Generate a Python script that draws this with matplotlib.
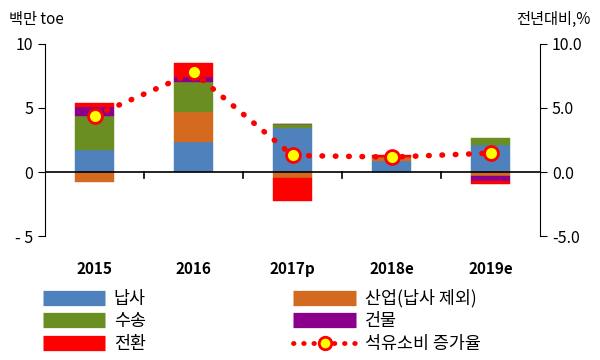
import matplotlib
matplotlib.use("Agg")
import matplotlib.pyplot as plt
from matplotlib.lines import Line2D
import numpy as np

plt.rcParams['font.family'] = ['Noto Sans CJK KR', 'DejaVu Sans']

years = ['2015', '2016', '2017p', '2018e', '2019e']
naphtha = [1.74, 2.36, 3.47, 0.83, 2.15]
industry = [-0.75, 2.30, -0.49, 0.33, -0.31]
transport = [2.64, 2.39, 0.26, 0.05, 0.52]
building = [0.72, 0.33, 0.05, 0.0, -0.41]
conversion = [0.29, 1.12, -1.79, 0.10, -0.21]
growth = [4.4, 7.77, 1.3, 1.17, 1.48]

series = [
    ('납사', naphtha, '#4F81BD'),
    ('산업(납사 제외)', industry, '#D46A1F'),
    ('수송', transport, '#6B8E23'),
    ('건물', building, '#8B008B'),
    ('전환', conversion, '#FF0000'),
]

fig = plt.figure(figsize=(6, 3.6), dpi=100)
ax = fig.add_axes([0.075, 0.344, 0.825, 0.534])
x = np.arange(len(years))
pos_base = np.zeros(len(years))
neg_base = np.zeros(len(years))
for name, vals, col in series:
    v = np.array(vals, dtype=float)
    bottoms = np.where(v >= 0, pos_base, neg_base)
    ax.bar(x, v, width=0.4, bottom=bottoms, color=col, edgecolor=col, linewidth=0.3, zorder=2)
    pos_base += np.where(v >= 0, v, 0)
    neg_base += np.where(v < 0, v, 0)

ax.set_xlim(-0.5, 4.5)
ax.set_ylim(-5, 10)
ax.set_yticks([-5, 0, 5, 10])
ax.set_yticklabels(['- 5', '0', '5', '10'])
ax.spines['top'].set_visible(False)
ax.spines['bottom'].set_visible(False)
ax.spines['right'].set_visible(False)
ax.spines['left'].set_bounds(-5, 10)
ax.axhline(0, color='black', lw=1.2, zorder=3)
ax.set_xticks(x)
ax.set_xticklabels(years, fontweight='bold')
ax.tick_params(axis='x', length=0, pad=18, labelsize=11)
ax.tick_params(axis='y', length=5, labelsize=11.5, direction='out')
for b in [0.5, 1.5, 2.5, 3.5]:
    ax.plot([b, b], [0, -0.45], color='black', lw=1.2, zorder=3, clip_on=False)

ax2 = ax.twinx()
ax2.set_ylim(-5, 10)
ax2.set_yticks([-5, 0, 5, 10])
ax2.set_yticklabels(['-5.0', '0.0', '5.0', '10.0'])
for s in ['top', 'bottom', 'left']:
    ax2.spines[s].set_visible(False)
ax2.spines['right'].set_bounds(-5, 10)
ax2.tick_params(axis='y', length=5, labelsize=11.5)
ax2.plot(x, growth, color='#FF0000', lw=4, linestyle=(0, (0.1, 2.3)), dash_capstyle='round',
         marker='o', markersize=10, markerfacecolor='#FFFF00', markeredgecolor='#FF0000',
         markeredgewidth=2, zorder=5)

fig.text(0.015, 0.945, '백만 toe', fontsize=11, ha='left', va='center')
fig.text(0.985, 0.945, '전년대비,%', fontsize=11, ha='right', va='center')

handles = []
labels = []
order = [0, 2, 4, 1, 3]
for i in order:
    name, _, col = series[i]
    handles.append(Line2D([], [], color=col, lw=11, solid_capstyle='butt'))
    labels.append(name)
line_h = Line2D([], [], color='#FF0000', lw=3.5, linestyle=(0, (0.1, 2.0)), dash_capstyle='round',
                marker='o', markersize=9, markerfacecolor='#FFFF00', markeredgecolor='#FF0000',
                markeredgewidth=2)
handles.append(line_h)
labels.append('석유소비 증가율')
leg = fig.legend(handles, labels, ncol=2, loc='lower left', bbox_to_anchor=(0.045, -0.023),
                 frameon=False, fontsize=12.5, handlelength=3.6, handletextpad=0.5,
                 columnspacing=8.5, labelspacing=0.25)

fig.savefig('out.png', dpi=100)
